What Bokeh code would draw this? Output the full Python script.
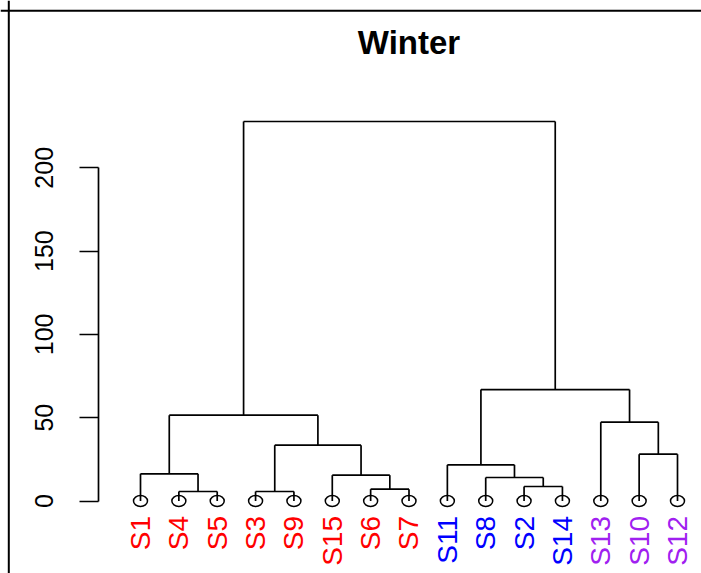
import math
from bokeh.plotting import figure
from bokeh.models import Span, Label, LinearAxis, FixedTicker
from bokeh.core.properties import value
from bokeh.embed import file_html
from bokeh.resources import INLINE

# ---- data ----
leaf_labels = ["S1", "S4", "S5", "S3", "S9", "S15", "S6", "S7",
               "S11", "S8", "S2", "S14", "S13", "S10", "S12"]
leaf_groups = ["red"] * 8 + ["blue"] * 4 + ["purple"] * 3
group_colors = {"red": "#FF0000", "blue": "#0000FF", "purple": "#A020F0"}

# R-style merge table: negative = leaf (1-based display position), positive = earlier merge row
merge_a = [-2, -4, -7, -11, -10, -6, -1, -9, -14, 2, -13, 7, 8, 12]
merge_b = [-3, -5, -8, -12, 4, 3, 1, 5, -15, 6, 9, 10, 11, 13]
merge_h = [5.7, 5.7, 7.1, 8.7, 14.1, 15.5, 16.3, 21.7, 28.1, 33.5, 47.3, 51.5, 66.9, 227.8]

y_ticks = [0, 50, 100, 150, 200]
title_text = "Winter"

# ---- layout ----
W, H = 701, 573
px_per_leaf = 38.357
leaf1_px = 140.0
zero_px = 500.5
px_per_unit = 1.666

x_start = 1 - leaf1_px / px_per_leaf
x_end = x_start + W / px_per_leaf
y_end = zero_px / px_per_unit
y_start = y_end - H / px_per_unit

p = figure(width=W, height=H, x_range=(x_start, x_end), y_range=(y_start, y_end),
           output_backend="svg", toolbar_location=None,
           x_axis_location=None, y_axis_location=None,
           min_border=0, outline_line_color=None,
           background_fill_color="white", border_fill_color="white")
p.grid.visible = False

# ---- dendrogram geometry ----
positions = list(range(1, len(leaf_labels) + 1))
node_x, node_y = [], []
x0s, y0s, x1s, y1s = [], [], [], []

def child(ref):
    if ref < 0:
        return positions[-ref - 1], 0.0
    return node_x[ref - 1], node_y[ref - 1]

for a, b, h in zip(merge_a, merge_b, merge_h):
    xa, ya = child(a)
    xb, yb = child(b)
    x0s += [xa, xb, xa]
    y0s += [ya, yb, h]
    x1s += [xa, xb, xb]
    y1s += [h, h, h]
    node_x.append((xa + xb) / 2)
    node_y.append(h)

p.segment(x0=x0s, y0=y0s, x1=x1s, y1=y1s, line_color="black", line_width=1.7)

# leaf circles
p.ellipse(x=positions, y=[0] * len(positions), width=14, height=11,
          width_units="screen", height_units="screen",
          fill_color=None, line_color="black", line_width=1.5)

# leaf labels
p.text(x=positions, y=[0] * len(positions), text=leaf_labels,
       angle=math.pi / 2, text_align="right", text_baseline="middle",
       y_offset=15, text_font=value("Liberation Sans"), text_font_size="28px",
       text_color=[group_colors[g] for g in leaf_groups])

# y axis (R style, inside the box)
axis_x = 1 + (97.7 - leaf1_px) / px_per_leaf
yaxis = LinearAxis(fixed_location=axis_x, ticker=FixedTicker(ticks=y_ticks),
                   bounds=(y_ticks[0], y_ticks[-1]))
yaxis.major_tick_out = 19
yaxis.major_tick_in = 0
yaxis.minor_tick_line_color = None
yaxis.axis_line_width = 1.7
yaxis.major_tick_line_width = 1.7
yaxis.major_label_orientation = "vertical"
yaxis.major_label_standoff = 26
yaxis.major_label_text_font = "Liberation Sans"
yaxis.major_label_text_font_size = "25px"
yaxis.major_label_text_color = "black"
p.add_layout(yaxis, "left")

# box around figure (left and top edges visible)
p.add_layout(Span(location=x_start + 8.3 / px_per_leaf, dimension="height",
                  line_color="black", line_width=2))
p.add_layout(Span(location=y_end - 10.2 / px_per_unit, dimension="width",
                  line_color="black", line_width=2))

# title
p.add_layout(Label(x=sum(positions) / len(positions), y=y_end - 42 / px_per_unit,
                   text=title_text, text_align="center", text_baseline="middle",
                   text_font="Liberation Sans", text_font_style="bold",
                   text_font_size="33px", text_color="black"))

open("out.html", "w").write(file_html(p, INLINE))
